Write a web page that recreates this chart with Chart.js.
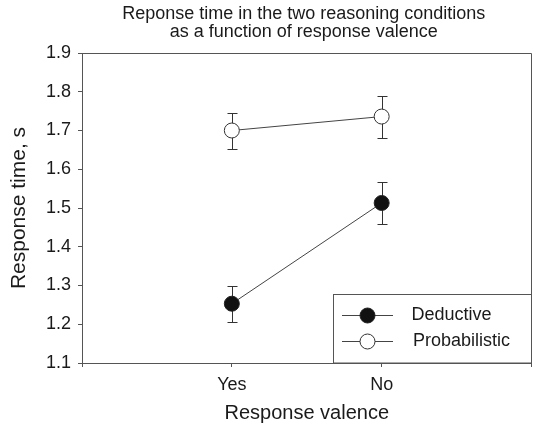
<!DOCTYPE html>
<html>
<head>
<meta charset="utf-8">
<script src="https://cdn.jsdelivr.net/npm/chart.js@4.4.0/dist/chart.umd.min.js"></script>
<style>
    html, body { margin: 0; padding: 0; background: #fff; }
</style>
</head>
<body>
<canvas id="chart" width="540" height="428"></canvas>
<script>
// categories sit at x = 1 and x = 2 on a 0..3 axis
const categories = ['Yes', 'No'];
const categoryPos = [1, 2];
const seriesNames = ['Deductive', 'Probabilistic'];

const deductiveMeans = [1.253, 1.513];
const deductiveLow = [1.206, 1.458];
const deductiveHigh = [1.300, 1.568];

const probabilisticMeans = [1.700, 1.736];
const probabilisticLow = [1.652, 1.681];
const probabilisticHigh = [1.745, 1.789];

const titleLines = ['Reponse time in the two reasoning conditions', 'as a function of response valence'];
const xTitle = 'Response valence';
const yTitle = 'Response time, s';

const fontFamily = '"Liberation Sans", Arial, Helvetica, sans-serif';
const axisColor = '#555';
const textColor = '#1a1a1a';

Chart.defaults.font.family = fontFamily;
Chart.defaults.color = textColor;

function toPoints(values) {
    return values.map((v, i) => ({ x: categoryPos[i], y: v }));
}

const errorBars = {
    id: 'errorBars',
    beforeDatasetsDraw(chart) {
        const ctx = chart.ctx;
        const xs = chart.scales.x;
        const ys = chart.scales.y;
        ctx.save();
        ctx.strokeStyle = '#333';
        ctx.lineWidth = 1;
        chart.data.datasets.forEach(ds => {
            ds.low.forEach((lo, i) => {
                const px = Math.round(xs.getPixelForValue(categoryPos[i])) + 0.5;
                const yLo = Math.round(ys.getPixelForValue(lo)) + 0.5;
                const yHi = Math.round(ys.getPixelForValue(ds.high[i])) + 0.5;
                ctx.beginPath();
                ctx.moveTo(px, yLo);
                ctx.lineTo(px, yHi);
                ctx.moveTo(px - 5, yLo);
                ctx.lineTo(px + 5, yLo);
                ctx.moveTo(px - 5, yHi);
                ctx.lineTo(px + 5, yHi);
                ctx.stroke();
            });
        });
        ctx.restore();
    }
};

const frameAndText = {
    id: 'frameAndText',
    beforeDatasetsDraw(chart) {
        // top and right sides of the box
        const { ctx, chartArea: a } = chart;
        ctx.save();
        ctx.strokeStyle = axisColor;
        ctx.lineWidth = 1;
        ctx.beginPath();
        ctx.moveTo(a.left, Math.round(a.top) + 0.5);
        ctx.lineTo(Math.round(a.right) - 0.5, Math.round(a.top) + 0.5);
        ctx.lineTo(Math.round(a.right) - 0.5, a.bottom);
        ctx.stroke();
        ctx.restore();
    },
    afterDraw(chart) {
        const { ctx, chartArea: a } = chart;
        ctx.save();
        // title, two lines
        ctx.fillStyle = textColor;
        ctx.font = '18px ' + fontFamily;
        ctx.textAlign = 'center';
        ctx.textBaseline = 'alphabetic';
        const cx = (a.left + a.right) / 2 - 3;
        ctx.fillText(titleLines[0], cx, 18.5);
        ctx.fillText(titleLines[1], cx, 36.5);

        // legend box, inside the lower right corner
        const bx = 333.5, by = 294.5;
        const bw = Math.round(a.right) - 0.5 - bx;
        const bh = Math.round(a.bottom) - by;
        ctx.fillStyle = '#fff';
        ctx.fillRect(bx, by, bw, bh);
        ctx.strokeStyle = axisColor;
        ctx.lineWidth = 1;
        ctx.strokeRect(bx, by, bw, bh);

        const rowY = [315.5, 341.5];
        chart.data.datasets.forEach((ds, i) => {
            ctx.strokeStyle = '#444';
            ctx.beginPath();
            ctx.moveTo(342, rowY[i]);
            ctx.lineTo(393, rowY[i]);
            ctx.stroke();
            ctx.beginPath();
            ctx.arc(367.5, rowY[i], ds.pointRadius, 0, Math.PI * 2);
            ctx.fillStyle = ds.pointBackgroundColor;
            ctx.fill();
            ctx.strokeStyle = ds.pointBorderColor;
            ctx.stroke();
            ctx.fillStyle = textColor;
            ctx.font = '18px ' + fontFamily;
            ctx.textAlign = 'left';
            ctx.textBaseline = 'middle';
            ctx.fillText(seriesNames[i], i === 0 ? 411.5 : 413, rowY[i]);
        });
        ctx.restore();
    }
};

new Chart(document.getElementById('chart').getContext('2d'), {
    type: 'line',
    data: {
        datasets: [{
            label: seriesNames[0],
            data: toPoints(deductiveMeans),
            low: deductiveLow,
            high: deductiveHigh,
            borderColor: '#444',
            borderWidth: 1,
            pointRadius: 7.5,
            pointBorderWidth: 1,
            pointBackgroundColor: '#111',
            pointBorderColor: '#222'
        }, {
            label: seriesNames[1],
            data: toPoints(probabilisticMeans),
            low: probabilisticLow,
            high: probabilisticHigh,
            borderColor: '#444',
            borderWidth: 1,
            pointRadius: 7.5,
            pointBorderWidth: 1,
            pointBackgroundColor: '#fff',
            pointBorderColor: '#333'
        }]
    },
    options: {
        responsive: false,
        animation: false,
        devicePixelRatio: 1,
        layout: { padding: { top: 53, right: 2, left: 0, bottom: 0 } },
        plugins: {
            legend: { display: false },
            title: { display: false },
            tooltip: { enabled: false }
        },
        scales: {
            x: {
                type: 'linear',
                min: 0,
                max: 3,
                afterFit: s => { s.height = 65; },
                ticks: {
                    stepSize: 1,
                    padding: 7,
                    color: textColor,
                    font: { size: 18 },
                    maxRotation: 0,
                    callback: v => {
                        const i = categoryPos.indexOf(v);
                        return i >= 0 ? categories[i] : '';
                    }
                },
                grid: { drawOnChartArea: false, tickLength: 4, color: axisColor },
                border: { color: axisColor, width: 1 },
                title: {
                    display: true,
                    text: xTitle,
                    color: textColor,
                    font: { size: 20, lineHeight: 1 },
                    padding: { top: 0, bottom: 5 }
                }
            },
            y: {
                min: 1.1,
                max: 1.9,
                afterFit: s => { s.width = 82; },
                ticks: {
                    stepSize: 0.1,
                    padding: 7,
                    color: textColor,
                    font: { size: 18 },
                    callback: v => v.toFixed(1)
                },
                grid: { drawOnChartArea: false, tickLength: 4, color: axisColor },
                border: { color: axisColor, width: 1 },
                title: {
                    display: true,
                    text: yTitle,
                    color: textColor,
                    font: { size: 21, lineHeight: 1.2 },
                    padding: { top: 7, bottom: 0 }
                }
            }
        }
    },
    plugins: [errorBars, frameAndText]
});
</script>
</body>
</html>
